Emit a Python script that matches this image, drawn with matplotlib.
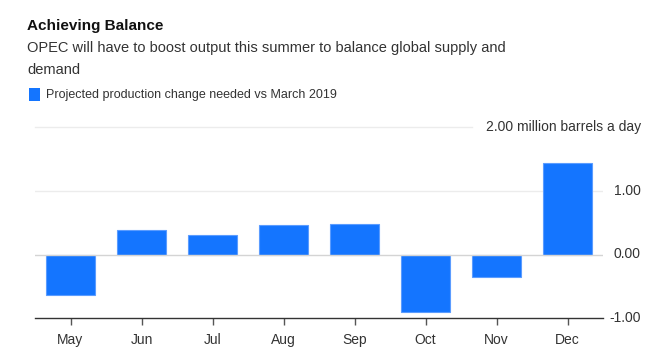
import matplotlib
matplotlib.use("Agg")
import matplotlib.pyplot as plt
from matplotlib.patches import Rectangle

# --- data ---
months = ["May", "Jun", "Jul", "Aug", "Sep", "Oct", "Nov", "Dec"]
change = [-0.64, 0.38, 0.31, 0.47, 0.48, -0.91, -0.36, 1.44]
yticks = [-1.0, 0.0, 1.0]
ytick_labels = ["-1.00", "0.00", "1.00"]

plt.rcParams["font.family"] = ["Liberation Sans", "DejaVu Sans"]

blue = "#1475ff"
W, H = 669, 356
fig = plt.figure(figsize=(W / 100, H / 100), dpi=100)
ax = fig.add_axes([35 / W, (H - 318) / H, (603 - 35) / W, (318 - 127.5) / H])

x = range(len(months))
ax.bar(x, change, width=0.7, color=blue, edgecolor="#5b9cff", linewidth=0.8, zorder=3)

ax.set_xlim(-0.5, len(months) - 0.5)
ax.set_ylim(-1.0, 2.0)

# gridlines
ax.axhline(1.0, color="#ececec", lw=1, zorder=1)
ax.axhline(0, color="#d4d4d4", lw=1, zorder=4)
ax.plot([-0.5, 5.65], [2.0, 2.0], color="#ececec", lw=1, zorder=1, clip_on=False)

for s in ["top", "right", "left"]:
    ax.spines[s].set_visible(False)
ax.spines["bottom"].set_color("#333333")
ax.spines["bottom"].set_linewidth(1)

ax.set_xticks(list(x))
ax.set_xticklabels(months, fontsize=10, color="#333333")
ax.tick_params(axis="x", length=5, width=1, color="#555555", pad=6)
ax.set_yticks([])

# right-side value labels
trans = ax.get_yaxis_transform()
lab_x = (641 - 35) / (603 - 35)
for v, lab in zip(yticks, ytick_labels):
    ax.text(lab_x, v, lab, transform=trans, fontsize=10, color="#333333",
            ha="right", va="center")
ax.text(lab_x, 2.0, "2.00 million barrels a day", transform=trans,
        fontsize=10, color="#333333", ha="right", va="center")

# titles and legend
fig.text(27 / W, 1 - 26 / H, "Achieving Balance", fontsize=11, fontweight="bold",
         color="#111111", va="center")
fig.text(27 / W, 1 - 48 / H, "OPEC will have to boost output this summer to balance global supply and",
         fontsize=10.5, color="#333333", va="center")
fig.text(27 / W, 1 - 70 / H, "demand", fontsize=10.5, color="#333333", va="center")
fig.patches.append(Rectangle((29 / W, 1 - 101 / H), 11 / W, 13 / H, transform=fig.transFigure,
                             facecolor=blue, edgecolor="none"))
fig.text(46 / W, 1 - 95 / H, "Projected production change needed vs March 2019",
         fontsize=9, color="#333333", va="center")

fig.savefig("out.png", dpi=100, facecolor="white")
